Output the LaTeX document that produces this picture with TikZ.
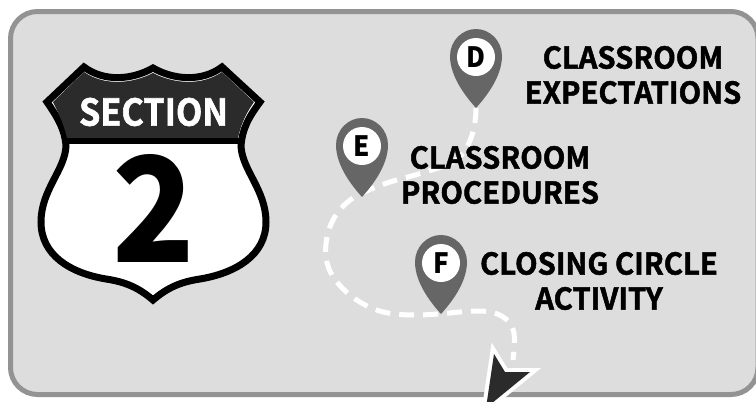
\documentclass[tikz,border=0pt]{standalone}
\usepackage{fontspec}
\newfontfamily\labfont[FakeStretch=0.975,FakeBold=1.6]{Noto Sans CJK SC Bold}
\newfontfamily\secfont[FakeStretch=0.925,FakeBold=1.6]{Noto Sans CJK SC Bold}
\newfontfamily\numfont[FakeStretch=0.93]{Noto Sans CJK SC Black}
\definecolor{panelfill}{HTML}{DDDDDD}
\definecolor{panelline}{HTML}{939393}
\definecolor{pinfill}{HTML}{666666}
\definecolor{shieldtop}{HTML}{2B2B2B}
\tikzset{
  lab/.style={font=\labfont\fontsize{30}{35}\selectfont,align=center,text=black,inner sep=0pt},
  pinletter/.style={circle,fill=white,minimum size=38pt,inner sep=0pt,text=black,font=\numfont\fontsize{28}{28}\selectfont},
  route/.style={draw=white,line width=5pt,dash pattern=on 15pt off 9pt}
}
\newcommand{\mypin}[4]{% x,y tip, name, letter
  \fill[pinfill] (#1,#2) .. controls (#1-8,#2-9) and (#1-26,#2-30) .. (#1-26,#2-52)
     .. controls (#1-26,#2-67) and (#1-14,#2-79) .. (#1,#2-79)
     .. controls (#1+14,#2-79) and (#1+26,#2-67) .. (#1+26,#2-52)
     .. controls (#1+26,#2-30) and (#1+8,#2-9) .. (#1,#2) -- cycle;
  \node[pinletter] (#3) at (#1,#2-51) {#4};
}
\begin{document}
\begin{tikzpicture}[x=1pt,y=-1pt]
\useasboundingbox (0,0) rectangle (756,402);
\fill[white] (0,0) rectangle (756,402);
\draw[draw=panelline,fill=panelfill,line width=5pt,rounded corners=27pt] (10.5,11.5) rectangle (758,394.5);
% route
\draw[route] (476,108) .. controls (476,122) and (473,136) .. (467,147)
  .. controls (460,160) and (450,165) .. (438,168)
  .. controls (420,174) and (400,179) .. (390,182)
  .. controls (375,187) and (363,192) .. (353,198)
  .. controls (338,208) and (330,222) .. (327,237)
  .. controls (324,252) and (326,265) .. (332,275)
  .. controls (340,288) and (352,298) .. (365,305)
  .. controls (380,313) and (395,315) .. (415,315)
  .. controls (440,315) and (460,311) .. (480,311)
  .. controls (497,311) and (511,318) .. (514,333)
  .. controls (515,342) and (514,350) .. (513,360);
% arrow
\path (494,354) coordinate (a1) (505,372) coordinate (a2) (530,372) coordinate (a3) (486,408) coordinate (a4);
\draw[draw=white,fill=white,line width=8pt,miter limit=10] (a1) -- (a2) -- (a3) -- (a4) -- cycle;
\fill[shieldtop] (a1) -- (a2) -- (a3) -- (a4) -- cycle;
% pins
\mypin{476}{108}{d}{D}
\mypin{362}{197}{e}{E}
\mypin{441}{314}{f}{F}
% shield
\draw[draw=black,line width=7pt,fill=white,line join=miter]
  (84,67) .. controls (104,82) and (132,80) .. (153,68)
  .. controls (174,80) and (202,82) .. (222,67)
  -- (260,102)
  .. controls (248,118) and (242,130) .. (241,146)
  .. controls (242,170) and (266,190) .. (266,222)
  .. controls (266,255) and (236,273) .. (200,279)
  .. controls (180,282) and (167,288) .. (153,300)
  .. controls (139,288) and (126,282) .. (106,279)
  .. controls (70,273) and (41,255) .. (41,222)
  .. controls (41,190) and (65,170) .. (66,146)
  .. controls (65,130) and (58,118) .. (47,102)
  -- cycle;
\fill[shieldtop] (84,72) .. controls (104,86) and (132,84) .. (153,73)
  .. controls (174,84) and (202,86) .. (222,72)
  -- (254,102)
  .. controls (244,116) and (240,128) .. (238,138)
  -- (67,138)
  .. controls (65,128) and (60,116) .. (53,102) -- cycle;
\draw[black,line width=6pt] (64,141) -- (242,141);
\node[font=\secfont\fontsize{37}{37}\selectfont,text=white,inner sep=0pt] (sec) at (153.5,112) {SECTION};
\node[font=\numfont\fontsize{146}{146}\selectfont,text=black,inner sep=0pt] (two) at (154,208) {2};
% labels
\node[lab] (t1) at (633,75) {CLASSROOM\\EXPECTATIONS};
\node[lab] (t2) at (500,175) {CLASSROOM\\PROCEDURES};
\node[lab] (t3) at (599,281) {CLOSING CIRCLE\\ACTIVITY};
\end{tikzpicture}
\end{document}
